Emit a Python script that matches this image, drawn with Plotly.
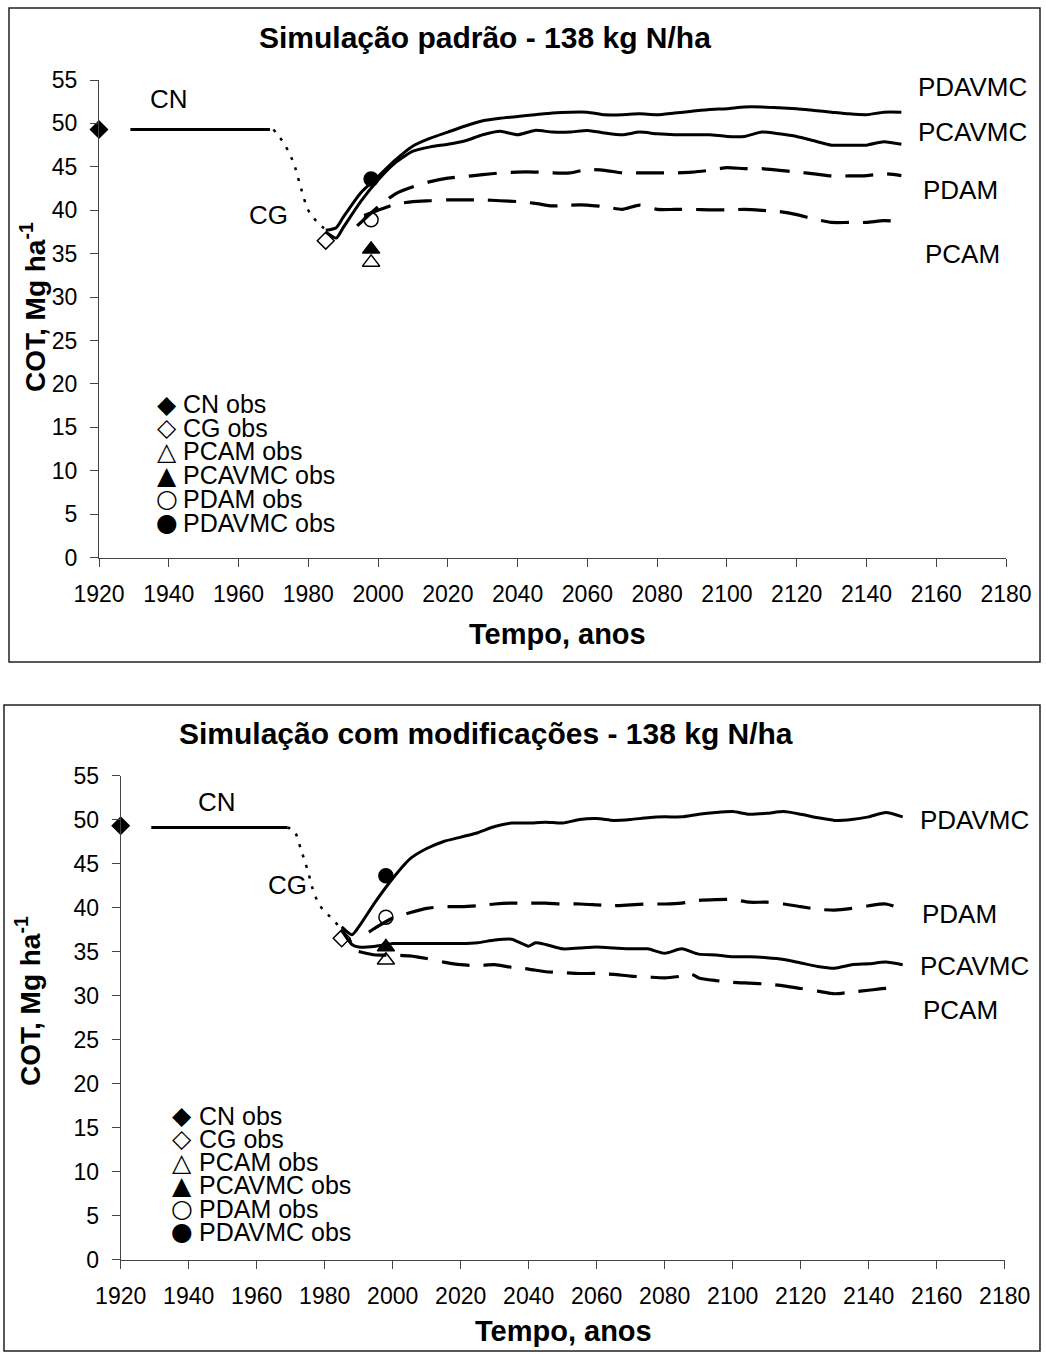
import plotly.graph_objects as go

W, H = 1046, 1353
FONT = "Liberation Sans, Arial, sans-serif"

# ---------------- data: top chart (Simulação padrão) ----------------
cn_years = [1929, 1969]
cn_top = [49.3, 49.3]

cg_top_years = [1970, 1972, 1974, 1976, 1978, 1980, 1982, 1984, 1985]
cg_top = [49.3, 48.3, 47.0, 45.2, 42.4, 40.0, 38.9, 38.1, 37.8]

yrs_late = [2040, 2045, 2050, 2055, 2060, 2065, 2070, 2075, 2080, 2085, 2090, 2095,
            2100, 2105, 2110, 2115, 2120, 2125, 2130, 2135, 2140, 2145, 2150]

pdavmc_top_years = [1985, 1988, 1990, 1995, 2000, 2005, 2010, 2015, 2020, 2025, 2030, 2035] + yrs_late
pdavmc_top = [37.7, 38.0, 39.2, 42.0, 43.9, 45.8, 47.4, 48.3, 49.0, 49.7, 50.3, 50.6,
              50.8, 51.0, 51.2, 51.3, 51.3, 51.0, 51.0, 51.1, 51.0, 51.2, 51.4, 51.6,
              51.7, 51.9, 51.9, 51.8, 51.7, 51.5, 51.3, 51.1, 51.0, 51.3, 51.3]

pcavmc_top_years = [1985, 1988, 1990, 1995, 2000, 2005, 2010, 2015, 2020, 2025, 2030, 2035] + yrs_late
pcavmc_top = [37.5, 36.8, 38.0, 41.0, 43.5, 45.5, 46.8, 47.3, 47.6, 48.0, 48.7, 49.1,
              48.7, 49.2, 49.0, 49.0, 49.2, 48.9, 48.7, 49.0, 48.8, 48.7, 48.7, 48.7,
              48.5, 48.5, 49.0, 48.8, 48.5, 48.0, 47.5, 47.5, 47.5, 47.9, 47.6]

pdam_top_years = [1994, 2000, 2005, 2010, 2015, 2020, 2025, 2030, 2035] + yrs_late
pdam_top = [38.2, 40.4, 41.9, 42.7, 43.3, 43.7, 43.9, 44.1, 44.3,
            44.4, 44.4, 44.3, 44.3, 44.7, 44.6, 44.3, 44.3, 44.3, 44.3, 44.4, 44.6,
            44.9, 44.8, 44.8, 44.6, 44.4, 44.2, 43.95, 43.95, 44.0, 44.2, 44.0]

pcam_top_years = [1996, 2000, 2005, 2010, 2015, 2020, 2025, 2030, 2035] + yrs_late
pcam_top = [39.4, 40.0, 40.7, 41.0, 41.1, 41.2, 41.2, 41.2, 41.1,
            41.0, 40.8, 40.5, 40.6, 40.6, 40.4, 40.1, 40.6, 40.1, 40.1, 40.1, 40.05,
            40.05, 40.1, 40.0, 39.85, 39.5, 39.0, 38.6, 38.6, 38.6, 38.8, 38.7]

# ---------------- data: bottom chart (Simulação com modificações) ----------------
cn_bot = [49.1, 49.1]

cg_bot_years = [1969, 1971, 1973, 1975, 1977, 1979, 1982, 1985, 1987, 1989]
cg_bot = [49.1, 48.7, 46.6, 44.2, 41.5, 40.0, 38.8, 37.5, 36.5, 35.5]

pdavmc_bot_years = [1985, 1988, 1990, 1995, 2000, 2005, 2010, 2015, 2020, 2025, 2030, 2035] + yrs_late
pdavmc_bot = [37.8, 36.9, 37.8, 40.7, 43.3, 45.5, 46.7, 47.5, 48.0, 48.5, 49.2, 49.6,
              49.6, 49.7, 49.6, 50.0, 50.1, 49.9, 50.0, 50.2, 50.3, 50.3, 50.6, 50.8,
              50.9, 50.6, 50.7, 50.9, 50.6, 50.2, 49.9, 50.0, 50.3, 50.8, 50.3]

pcavmc_bot_years = [1985, 1988, 1990, 1995, 2000, 2005, 2010, 2015, 2020, 2025, 2030, 2035,
                    2040, 2042, 2045, 2050, 2055, 2060, 2065, 2070, 2075, 2080, 2085, 2090,
                    2095, 2100, 2105, 2110, 2115, 2120, 2125, 2130, 2135, 2140, 2145, 2150]
pcavmc_bot = [37.4, 35.8, 35.5, 35.6, 35.9, 35.9, 35.9, 35.9, 35.9, 36.0, 36.3, 36.4,
              35.6, 36.0, 35.8, 35.3, 35.4, 35.5, 35.4, 35.3, 35.3, 34.8, 35.3, 34.7,
              34.6, 34.4, 34.4, 34.3, 34.1, 33.7, 33.3, 33.1, 33.5, 33.6, 33.8, 33.5]

pdam_bot_years = [1993, 1995, 2000, 2005, 2010, 2015, 2020, 2025, 2030, 2035] + yrs_late
pdam_bot = [37.2, 37.7, 38.8, 39.4, 39.9, 40.1, 40.1, 40.2, 40.4, 40.5,
            40.5, 40.5, 40.4, 40.4, 40.3, 40.2, 40.3, 40.4, 40.4, 40.5, 40.8, 40.9,
            40.9, 40.6, 40.6, 40.4, 40.1, 39.8, 39.7, 39.9, 40.2, 40.4, 39.8]

pcam_bot_years = [1990, 1995, 2000, 2005, 2010, 2015, 2020, 2025, 2030, 2035, 2040, 2045,
                  2050, 2055, 2060, 2065, 2070, 2075, 2080, 2085, 2088, 2090, 2095, 2100,
                  2105, 2110, 2115, 2120, 2125, 2130, 2135, 2140, 2145, 2147]
pcam_bot = [35.0, 34.6, 34.6, 34.5, 34.2, 33.8, 33.5, 33.4, 33.5, 33.2, 33.0, 32.7,
            32.6, 32.5, 32.5, 32.4, 32.2, 32.1, 32.0, 32.2, 32.4, 32.0, 31.7, 31.5,
            31.4, 31.3, 31.1, 30.8, 30.5, 30.2, 30.4, 30.6, 30.8, 30.8]

# ---------------- observed values (same in both charts) ----------------
obs_names = ["CN obs", "CG obs", "PCAM obs", "PCAVMC obs", "PDAM obs", "PDAVMC obs"]
obs_years = [1920, 1985, 1998, 1998, 1998, 1998]
obs_vals = [49.3, 36.5, 34.0, 35.5, 38.9, 43.6]
obs_symbols = ["diamond", "diamond-open", "triangle-up-open", "triangle-up", "circle-open", "circle"]
obs_sizes = [13, 13, 15, 15, 14, 14]
legend_glyphs = ["\u25C6", "\u25C7", "\u25B3", "\u25B2", "\u25CB", "\u25CF"]

x_ticks = list(range(1920, 2181, 20))
y_ticks = list(range(0, 56, 5))

titles = ["Simula\u00e7\u00e3o padr\u00e3o - 138 kg N/ha",
          "Simula\u00e7\u00e3o com modifica\u00e7\u00f5es - 138 kg N/ha"]

# ---------------- layout geometry (pixels) ----------------
panels = [
    dict(xa="x", ya="y", left=99, right=1006, top=80, bottom=557.7,
         box=(9, 8, 1040, 662), title_xy=(485, 37), xt_xy=(557, 634), yt_xy=(33, 307),
         leg_mx=167, leg_tx=181, leg_y0=404, leg_dy=23.7,
         labels=[("CN", 1940, 52.8), ("CG", 1968.7, 39.4), ("PDAVMC", 2170.4, 54.2),
                 ("PCAVMC", 2170.4, 49.05), ("PDAM", 2167, 42.3), ("PCAM", 2167.4, 35.0)]),
    dict(xa="x2", ya="y2", left=120.7, right=1004.7, top=775.5, bottom=1259.5,
         box=(4, 705, 1040, 1351), title_xy=(486, 733), xt_xy=(563, 1331), yt_xy=(28, 1001),
         leg_mx=181.7, leg_tx=196.7, leg_y0=1115.7, leg_dy=23.2,
         labels=[("CN", 1948.2, 52.0), ("CG", 1969.1, 42.6), ("PDAVMC", 2171, 49.9),
                 ("PDAM", 2166.6, 39.3), ("PCAVMC", 2171, 33.3), ("PCAM", 2167, 28.35)]),
]

series = [
    dict(cn=cn_top, cg=(cg_top_years, cg_top),
         solid=[("PDAVMC", pdavmc_top_years, pdavmc_top), ("PCAVMC", pcavmc_top_years, pcavmc_top)],
         dashed=[("PDAM", pdam_top_years, pdam_top), ("PCAM", pcam_top_years, pcam_top)]),
    dict(cn=cn_bot, cg=(cg_bot_years, cg_bot),
         solid=[("PDAVMC", pdavmc_bot_years, pdavmc_bot), ("PCAVMC", pcavmc_bot_years, pcavmc_bot)],
         dashed=[("PDAM", pdam_bot_years, pdam_bot), ("PCAM", pcam_bot_years, pcam_bot)]),
]

fig = go.Figure()
annotations = []
shapes = []

for idx, (p, s) in enumerate(zip(panels, series)):
    xa, ya = p["xa"], p["ya"]
    fig.add_trace(go.Scatter(x=cn_years, y=s["cn"], mode="lines", xaxis=xa, yaxis=ya,
                             line=dict(color="black", width=3), showlegend=False, name="CN"))
    fig.add_trace(go.Scatter(x=s["cg"][0], y=s["cg"][1], mode="lines", xaxis=xa, yaxis=ya,
                             line=dict(color="black", width=2.5, dash="3px,8px", shape="spline"),
                             showlegend=False, name="CG"))
    for name, xs, ys in s["solid"]:
        fig.add_trace(go.Scatter(x=xs, y=ys, mode="lines", xaxis=xa, yaxis=ya, name=name,
                                 line=dict(color="black", width=3, shape="spline", smoothing=0.6),
                                 showlegend=False))
    for name, xs, ys in s["dashed"]:
        fig.add_trace(go.Scatter(x=xs, y=ys, mode="lines", xaxis=xa, yaxis=ya, name=name,
                                 line=dict(color="black", width=3.2, dash="28px,14px",
                                           shape="spline", smoothing=0.6),
                                 showlegend=False))
    for nm, xv, yv, sym, sz in zip(obs_names, obs_years, obs_vals, obs_symbols, obs_sizes):
        fig.add_trace(go.Scatter(x=[xv], y=[yv], mode="markers", xaxis=xa, yaxis=ya, name=nm,
                                 marker=dict(symbol=sym, size=sz, color="black",
                                             line=dict(color="black", width=1.5)),
                                 cliponaxis=False, showlegend=False))

    # curve labels
    for txt, lx, ly in p["labels"]:
        annotations.append(dict(text=txt, x=lx, y=ly, xref=xa, yref=ya, showarrow=False,
                                xanchor="center", yanchor="middle",
                                font=dict(family=FONT, size=26, color="black")))
    # chart title
    tx, ty = p["title_xy"]
    annotations.append(dict(text="<b>%s</b>" % titles[idx], x=tx / W, y=1 - ty / H,
                            xref="paper", yref="paper", showarrow=False,
                            xanchor="center", yanchor="middle",
                            font=dict(family=FONT, size=30, color="black")))
    # axis titles
    ax_, ay_ = p["xt_xy"]
    annotations.append(dict(text="<b>Tempo, anos</b>", x=ax_ / W, y=1 - ay_ / H,
                            xref="paper", yref="paper", showarrow=False,
                            xanchor="center", yanchor="middle",
                            font=dict(family=FONT, size=29, color="black")))
    bx_, by_ = p["yt_xy"]
    annotations.append(dict(text="<b>COT, Mg ha<sup>-1</sup></b>", x=bx_ / W, y=1 - by_ / H,
                            xref="paper", yref="paper", showarrow=False, textangle=-90,
                            xanchor="center", yanchor="middle",
                            font=dict(family=FONT, size=28, color="black")))
    # legend (key) rows
    for i, (g, nm) in enumerate(zip(legend_glyphs, obs_names)):
        ry = p["leg_y0"] + i * p["leg_dy"]
        annotations.append(dict(text=g, x=p["leg_mx"] / W, y=1 - ry / H, xref="paper", yref="paper",
                                showarrow=False, xanchor="center", yanchor="middle", height=23,
                                font=dict(family="DejaVu Sans", size=25, color="black")))
        annotations.append(dict(text=nm, x=p["leg_tx"] / W, y=1 - ry / H, xref="paper", yref="paper",
                                showarrow=False, xanchor="left", yanchor="middle", height=22,
                                font=dict(family=FONT, size=25, color="black")))
    # frame around the chart
    x0, y0, x1, y1 = p["box"]
    shapes.append(dict(type="rect", xref="paper", yref="paper", x0=x0 / W, x1=x1 / W,
                       y0=1 - y1 / H, y1=1 - y0 / H, line=dict(color="#222", width=1.5)))

axis_common = dict(showgrid=False, zeroline=False, showline=True, linecolor="#444", linewidth=1.2,
                   ticks="outside", tickcolor="#444", tickwidth=1.2, automargin=False,
                   tickfont=dict(family=FONT, size=23, color="black"))

layout = dict(width=W, height=H, margin=dict(l=0, r=0, t=0, b=0, pad=0, autoexpand=False),
              autosize=False, paper_bgcolor="white", plot_bgcolor="white", showlegend=False,
              annotations=annotations, shapes=shapes)

for p, (xk, yk) in zip(panels, [("xaxis", "yaxis"), ("xaxis2", "yaxis2")]):
    layout[xk] = dict(axis_common, domain=[p["left"] / W, p["right"] / W], range=[1920, 2180],
                      tickvals=x_ticks, ticklen=8, anchor=p["ya"], ticklabelstandoff=8)
    layout[yk] = dict(axis_common, domain=[1 - p["bottom"] / H, 1 - p["top"] / H], range=[0, 55],
                      tickvals=y_ticks, ticklen=8, anchor=p["xa"], ticklabelstandoff=8)

fig.update_layout(**layout)
fig.write_html("out.html")
